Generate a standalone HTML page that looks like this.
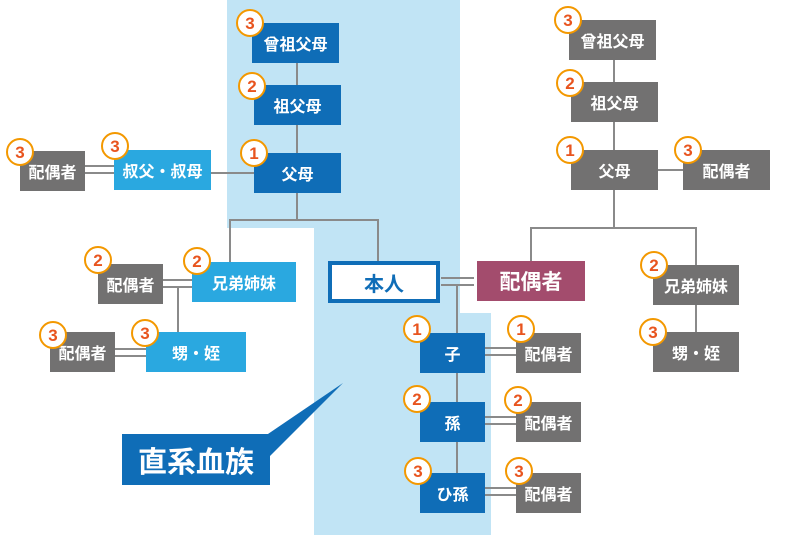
<!DOCTYPE html>
<html><head><meta charset="utf-8"><style>
body{margin:0;width:800px;height:535px;position:relative;background:#fff;overflow:hidden;font-family:"Liberation Sans","Noto Sans CJK JP",sans-serif;}
.bg{position:absolute;background:#c1e4f5;}
.b{position:absolute;color:#fff;font-weight:bold;font-size:16px;display:flex;align-items:center;justify-content:center;box-sizing:border-box;}
.d{background:#0f6db7}.l{background:#2aa8e0}.g{background:#727171}
.c{position:absolute;width:24px;height:24px;border:2.5px solid #f39800;border-radius:50%;background:#fff;color:#e8541e;font-weight:bold;font-size:17px;display:flex;align-items:center;justify-content:center;transform:translate(-50%,-50%);box-sizing:content-box;line-height:1;}
.h{position:absolute;height:2px;background:#8a8a8a}.v{position:absolute;width:2px;background:#8a8a8a}
</style></head><body>
<div class="bg" style="left:227px;top:0;width:233px;height:228px"></div>
<div class="bg" style="left:314px;top:228px;width:146px;height:86px"></div>
<div class="bg" style="left:314px;top:313px;width:177px;height:222px"></div>

<div class="v" style="left:296px;top:63px;height:90px"></div>
<div class="h" style="left:211px;top:172px;width:43px"></div>
<div class="h" style="left:85px;top:165px;width:29px"></div><div class="h" style="left:85px;top:172px;width:29px"></div>
<div class="v" style="left:296px;top:193px;height:27px"></div>
<div class="h" style="left:230px;top:219px;width:149px"></div>
<div class="v" style="left:229px;top:219px;height:43px"></div>
<div class="v" style="left:377px;top:219px;height:43px"></div>
<div class="h" style="left:163px;top:279px;width:29px"></div><div class="h" style="left:163px;top:286px;width:29px"></div>
<div class="v" style="left:177px;top:286px;height:46px"></div>
<div class="h" style="left:115px;top:348px;width:31px"></div><div class="h" style="left:115px;top:355px;width:31px"></div>
<div class="h" style="left:441px;top:277px;width:33px"></div><div class="h" style="left:441px;top:284px;width:33px"></div>
<div class="v" style="left:456px;top:284px;height:190px"></div>
<div class="h" style="left:485px;top:347px;width:31px"></div><div class="h" style="left:485px;top:354px;width:31px"></div>
<div class="h" style="left:485px;top:416px;width:31px"></div><div class="h" style="left:485px;top:423px;width:31px"></div>
<div class="h" style="left:485px;top:487px;width:31px"></div><div class="h" style="left:485px;top:494px;width:31px"></div>
<div class="v" style="left:613px;top:60px;height:167px"></div>
<div class="h" style="left:658px;top:169px;width:25px"></div>
<div class="h" style="left:530px;top:227px;width:167px"></div>
<div class="v" style="left:530px;top:227px;height:34px"></div>
<div class="v" style="left:695px;top:227px;height:38px"></div>
<div class="v" style="left:695px;top:305px;height:27px"></div>

<div class="b d" style="left:252px;top:23px;width:87px;height:40px">曾祖父母</div>
<div class="b d" style="left:254px;top:85px;width:87px;height:40px">祖父母</div>
<div class="b d" style="left:254px;top:153px;width:87px;height:40px">父母</div>
<div class="b l" style="left:114px;top:150px;width:97px;height:40px">叔父・叔母</div>
<div class="b g" style="left:20px;top:151px;width:65px;height:40px">配偶者</div>
<div class="b l" style="left:192px;top:262px;width:104px;height:40px">兄弟姉妹</div>
<div class="b g" style="left:98px;top:264px;width:65px;height:40px">配偶者</div>
<div class="b l" style="left:146px;top:332px;width:100px;height:40px">甥・姪</div>
<div class="b g" style="left:50px;top:332px;width:65px;height:40px">配偶者</div>
<div class="b" style="left:328px;top:261px;width:112px;height:42px;background:#fff;border:4px solid #0f6db7;color:#0f6db7;font-size:20px">本人</div>
<div class="b" style="left:477px;top:261px;width:108px;height:40px;background:#a34c6d;font-size:21px">配偶者</div>
<div class="b d" style="left:420px;top:333px;width:65px;height:40px">子</div>
<div class="b d" style="left:420px;top:402px;width:65px;height:40px">孫</div>
<div class="b d" style="left:420px;top:473px;width:65px;height:40px">ひ孫</div>
<div class="b g" style="left:516px;top:333px;width:65px;height:40px">配偶者</div>
<div class="b g" style="left:516px;top:402px;width:65px;height:40px">配偶者</div>
<div class="b g" style="left:516px;top:473px;width:65px;height:40px">配偶者</div>
<div class="b g" style="left:569px;top:20px;width:87px;height:40px">曾祖父母</div>
<div class="b g" style="left:571px;top:82px;width:87px;height:40px">祖父母</div>
<div class="b g" style="left:571px;top:150px;width:87px;height:40px">父母</div>
<div class="b g" style="left:683px;top:150px;width:87px;height:40px">配偶者</div>
<div class="b g" style="left:653px;top:265px;width:86px;height:40px">兄弟姉妹</div>
<div class="b g" style="left:653px;top:332px;width:86px;height:40px">甥・姪</div>

<svg style="position:absolute;left:0;top:0" width="800" height="535"><polygon points="265,436 343,383 268,458" fill="#0f6db7"/></svg>
<div class="b d" style="left:122px;top:434px;width:148px;height:51px;font-size:29px;font-weight:bold">直系血族</div>

<div class="c" style="left:250px;top:23px">3</div>
<div class="c" style="left:252px;top:86px">2</div>
<div class="c" style="left:254px;top:153px">1</div>
<div class="c" style="left:115px;top:146px">3</div>
<div class="c" style="left:20px;top:152px">3</div>
<div class="c" style="left:197px;top:261px">2</div>
<div class="c" style="left:98px;top:260px">2</div>
<div class="c" style="left:145px;top:333px">3</div>
<div class="c" style="left:53px;top:335px">3</div>
<div class="c" style="left:417px;top:329px">1</div>
<div class="c" style="left:417px;top:399px">2</div>
<div class="c" style="left:418px;top:471px">3</div>
<div class="c" style="left:521px;top:329px">1</div>
<div class="c" style="left:518px;top:400px">2</div>
<div class="c" style="left:519px;top:471px">3</div>
<div class="c" style="left:568px;top:20px">3</div>
<div class="c" style="left:570px;top:83px">2</div>
<div class="c" style="left:570px;top:150px">1</div>
<div class="c" style="left:688px;top:150px">3</div>
<div class="c" style="left:654px;top:265px">2</div>
<div class="c" style="left:653px;top:332px">3</div>
</body></html>
